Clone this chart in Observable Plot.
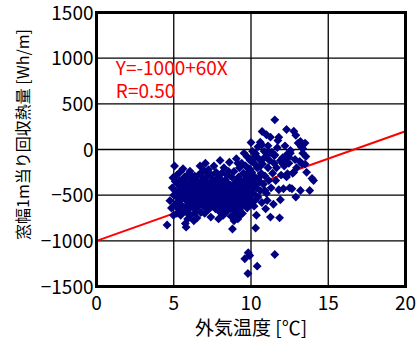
<!DOCTYPE html>
<html>
<head>
<meta charset="utf-8">
<script src="https://cdn.jsdelivr.net/npm/d3@7"></script>
<script src="https://cdn.jsdelivr.net/npm/@observablehq/plot@0.6"></script>
<style>
  html, body { margin: 0; padding: 0; background: white; }
</style>
</head>
<body>
<div id="chart"></div>
<script>
// Outdoor temperature [°C]
const temp = [
  4.57,4.75,4.85,4.9,4.95,4.98,5.0,
  5.05,5.1,5.1,5.15,5.2,5.2,5.25,5.3,5.3,5.35,5.4,5.4,5.45,5.45,5.5,5.5,
  5.55,5.6,5.6,5.65,5.7,5.7,5.75,5.75,5.8,5.8,5.85,5.85,5.9,5.9,5.95,6.0,6.0,6.0,
  6.05,6.05,6.1,6.1,6.15,6.2,6.2,6.25,6.3,6.3,6.35,6.35,6.4,6.4,6.45,6.5,6.5,6.5,
  6.55,6.6,6.6,6.65,6.7,6.7,6.75,6.75,6.8,6.8,6.85,6.9,6.9,6.95,6.95,7.0,7.0,7.0,
  7.05,7.05,7.1,7.1,7.15,7.2,7.2,7.25,7.25,7.3,7.3,7.35,7.4,7.4,7.45,7.45,7.5,7.5,
  7.55,7.55,7.6,7.6,7.65,7.7,7.7,7.75,7.75,7.8,7.8,7.85,7.9,7.9,7.95,7.95,8.0,8.0,8.0,
  8.05,8.1,8.1,8.15,8.2,8.2,8.25,8.25,8.3,8.3,8.35,8.35,8.4,8.4,8.45,8.45,8.5,8.5,
  8.55,8.55,8.6,8.6,8.65,8.7,8.7,8.75,8.75,8.8,8.8,8.85,8.85,8.9,8.9,8.95,9.0,9.0,9.0,
  9.05,9.05,9.1,9.1,9.15,9.15,9.2,9.2,9.25,9.25,9.3,9.3,9.35,9.35,9.4,9.4,9.45,9.45,9.5,9.5,
  9.55,9.55,9.6,9.6,9.65,9.65,9.7,9.7,9.75,9.75,9.8,9.8,9.85,9.85,9.9,9.9,9.95,9.95,10.0,10.0,
  9.6,9.82,9.92,9.8,10.4,11.54,
  10.05,10.05,10.1,10.1,10.15,10.2,10.2,10.25,10.3,10.3,10.35,10.35,10.4,10.45,10.45,10.5,
  10.55,10.6,10.6,10.65,10.7,10.7,10.72,10.75,10.8,10.85,10.9,10.95,11.0,11.0,11.0,
  11.05,11.1,11.1,11.15,11.2,11.26,11.26,11.3,11.35,11.4,11.45,11.5,11.2,11.5,
  11.54,11.55,11.6,11.65,11.7,11.74,11.8,11.8,11.85,11.9,11.9,11.95,
  12.05,12.1,12.15,12.2,12.3,12.3,12.35,12.45,12.5,12.55,12.45,12.2,12.05,12.77,12.36,
  12.55,12.65,12.7,12.77,12.85,12.9,12.9,12.95,
  13.05,13.15,13.2,13.25,13.35,13.5,13.6,13.8,13.95,14.05,13.2,13.5,13.25,13.35,13.55,13.3,10.3,
  5.2,5.35,5.55,5.65,5.8,5.95,6.1,6.15,6.25,6.4,6.45,6.6,6.7,6.85,7.0,7.1,7.15,7.3,7.35,7.5,
  7.6,7.65,7.8,7.85,8.0,8.05,8.15,8.3,8.4,8.5,8.6,8.65,8.75,8.85,8.95,9.05,9.1,9.2,9.25,9.35,
  9.4,9.45,9.55,9.6,9.7,9.75,9.8,9.9,9.95,10.05,10.1,10.15,10.25,10.25,10.4,10.55,10.6,10.8,10.9,
  8.2,7.9,8.9,9.3,6.3,5.9,7.2,8.55,9.15,6.8
];
// Recovered heat per 1 m of window width [Wh/m]
const heat = [
  -826,-560,-640,-420,-310,-720,-500,
  -180,-350,-600,-460,-700,-280,-530,-390,-650,-460,-340,-560,-720,-240,-430,-610,
  -500,-210,-380,-680,-540,-300,-810,-450,-620,-850,-360,-520,-700,-420,-580,-480,-260,-650,
  -237,-540,-400,-720,-600,-330,-470,-560,-640,-420,-290,-520,-380,-690,-470,-580,-340,-750,
  -420,-520,-280,-610,-460,-180,-360,-690,-550,-400,-300,-620,-480,-230,-560,-410,-700,-340,
  -520,-150,-600,-450,-300,-380,-660,-510,-220,-430,-580,-360,-470,-740,-280,-540,-400,-620,
  -330,-500,-180,-570,-440,-650,-370,-520,-250,-460,-600,-400,-300,-550,-680,-480,-350,-120,-590,
  -430,-520,-260,-640,-380,-480,-570,-200,-450,-700,-330,-530,-610,-410,-280,-500,-660,-370,
  -460,-560,-140,-620,-390,-520,-730,-300,-450,-870,-580,-400,-660,-240,-500,-600,-350,-700,-450,
  -540,-100,-620,-400,-480,-760,-300,-570,-660,-200,-440,-520,-350,-610,-150,-480,-560,-700,-400,-260,
  -500,-40,-600,-330,-180,-450,-550,-270,-380,-80,-490,-620,-210,-350,-430,-530,-120,-300,77,-450,
  -1196,-1130,-1160,-1357,-1277,-1149,
  -250,-560,-20,-380,-480,-150,-620,-300,-860,-70,-420,-720,-200,-520,30,-340,
  -110,80,-450,-260,51,-580,197,-160,-380,-20,-290,-650,161,-80,-480,
  -558,-200,40,-340,-120,135,-740,-420,-30,-260,-600,-150,-29,-66,
  325,-60,-340,-200,20,98,135,-440,-748,-550,-120,-280,
  -90,-430,-180,40,219,-300,-50,-150,-420,-40,-84,-113,-157,-248,-266,
  -10,-430,-260,200,-110,156,-521,-200,
  70,-130,-449,30,10,-160,-250,-449,-317,-339,88,70,44,-40,-77,-157,-47,
  -480,-600,-350,-460,-300,-400,-520,-310,-440,-560,-650,-390,-580,-480,-540,-380,-500,-650,-450,-520,
  -420,-600,-350,-560,-450,-620,-350,-560,-470,-560,-480,-650,-560,-510,-420,-460,-560,-420,-510,-460,
  -620,-380,-560,-420,-480,-640,-320,-600,-220,-120,-480,-330,-40,-560,-380,-300,-180,-100,-450,
  -720,-760,-780,-720,-780,-760,-260,-240,-150,-250
];
const data = temp.map((t, i) => ({temp: t, heat: heat[i]}));

// Regression: Y = -1000 + 60X
const intercept = -1000;
const slope = 60;
const fitX = [0, 20];
const fit = fitX.map(x => ({temp: x, heat: intercept + slope * x}));

const xTicks = [0, 5, 10, 15, 20];
const yTicks = [-1500, -1000, -500, 0, 500, 1000, 1500];
const xLabel = "外気温度 [℃]";
const yLabel = "窓幅1m当り回収熱量 [Wh/m]";
const notes = [
  {temp: 1.25, heat: 880, text: "Y=-1000+60X"},
  {temp: 1.25, heat: 630, text: "R=0.50"}
];
const fmt = d => (d < 0 ? "\u2212" + Math.abs(d) : String(d));

const chart = Plot.plot({
  width: 416,
  height: 345,
  marginLeft: 96,
  marginRight: 11,
  marginTop: 12,
  marginBottom: 59,
  style: {fontFamily: "'Noto Sans CJK JP', sans-serif", fontSize: "19px", color: "black", background: "white"},
  x: {domain: [0, 20]},
  y: {domain: [-1500, 1500]},
  marks: [
    Plot.gridX(xTicks, {stroke: "black", strokeOpacity: 1, strokeWidth: 1.3}),
    Plot.gridY(yTicks, {stroke: "black", strokeOpacity: 1, strokeWidth: 1.3}),
    Plot.line(fit, {x: "temp", y: "heat", stroke: "#ff0000", strokeWidth: 2}),
    Plot.dot(data, {x: "temp", y: "heat", symbol: "diamond2", r: 4, fill: "#000080", stroke: "none"}),
    Plot.frame({stroke: "black", strokeWidth: 3}),
    Plot.axisX(xTicks, {tickSize: 0, tickPadding: 10, tickFormat: fmt, label: xLabel, labelAnchor: "center", labelArrow: false, labelOffset: 48, fontSize: 19}),
    Plot.axisY(yTicks, {tickSize: 0, tickPadding: 3, tickFormat: fmt, label: null, fontSize: 19, dy: 1}),
    Plot.text([yLabel], {text: d => d, frameAnchor: "left", textAnchor: "middle", lineAnchor: "middle", rotate: -90, dx: -73, dy: -15, fontSize: 16, fill: "black"}),
    Plot.text(notes, {x: "temp", y: "heat", text: "text", fill: "#ff0000", textAnchor: "start", fontSize: 19})
  ]
});
document.getElementById("chart").appendChild(chart);
</script>
</body>
</html>
